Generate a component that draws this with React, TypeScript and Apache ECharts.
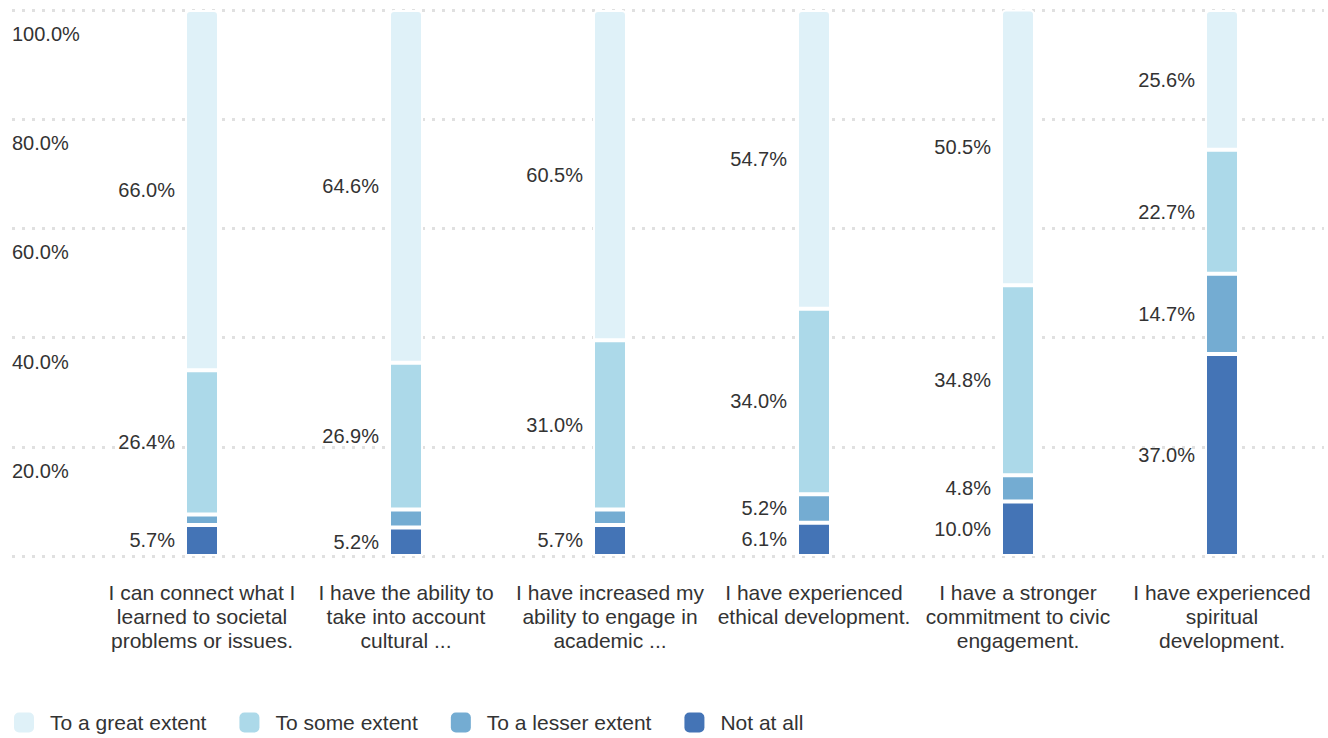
import React, { useEffect, useRef } from "react";
import * as echarts from "echarts";

const categories = [
  "I can connect what I\nlearned to societal\nproblems or issues.",
  "I have the ability to\ntake into account\ncultural ...",
  "I have increased my\nability to engage in\nacademic ...",
  "I have experienced\nethical development.",
  "I have a stronger\ncommitment to civic\nengagement.",
  "I have experienced\nspiritual\ndevelopment.",
];

const notAtAll = [5.7, 5.2, 5.7, 6.1, 10.0, 37.0];
const lesserExtent = [1.9, 3.3, 2.8, 5.2, 4.8, 14.7];
const someExtent = [26.4, 26.9, 31.0, 34.0, 34.8, 22.7];
const greatExtent = [66.0, 64.6, 60.5, 54.7, 50.5, 25.6];

const seriesNames = ["To a great extent", "To some extent", "To a lesser extent", "Not at all"];
const colors = {
  great: "#dff1f8",
  some: "#acd9e9",
  lesser: "#74acd2",
  not: "#4474b6",
};

const FONT = "'Liberation Sans', Arial, sans-serif";

export default function App() {
  const ref = useRef<HTMLDivElement>(null);
  useEffect(() => {
    if (!ref.current) return;
    const chart = echarts.init(ref.current, undefined, { renderer: "svg" });
    const labelCfg = {
      show: true,
      position: "left",
      distance: 10,
      fontSize: 20,
      fontFamily: FONT,
      color: "#333",
      formatter: (p: any) => (p.value >= 4 ? Number(p.value).toFixed(1) + "%" : ""),
    };
    const mk = (name: string, data: number[], color: string, top = false) => ({
      name,
      type: "bar",
      stack: "total",
      xAxisIndex: 0,
      yAxisIndex: 0,
      barWidth: 34,
      data,
      label: labelCfg,
      itemStyle: {
        color,
        borderColor: "#fff",
        borderWidth: 2,
        borderRadius: top ? [4, 4, 0, 0] : 0,
      },
      emphasis: { disabled: true },
    });
    chart.setOption({
      animation: false,
      textStyle: { fontFamily: FONT },
      grid: [
        { left: 100, right: 4, top: 10, bottom: 182 },
        { left: 12, right: 4, top: 10, bottom: 182 },
      ],
      xAxis: [
        {
          type: "category",
          gridIndex: 0,
          data: categories,
          axisLine: { show: false },
          axisTick: { show: false },
          axisLabel: {
            interval: 0,
            fontSize: 21,
            lineHeight: 24,
            color: "#333",
            fontFamily: FONT,
            margin: 24,
          },
          z: 3,
        },
        {
          type: "value",
          gridIndex: 1,
          show: false,
        },
      ],
      yAxis: [
        {
          type: "value",
          gridIndex: 0,
          min: 0,
          max: 100,
          interval: 20,
          show: false,
          splitLine: { show: false },
        },
        {
          type: "value",
          gridIndex: 1,
          min: 0,
          max: 100,
          interval: 20,
          axisLine: { show: false },
          axisTick: { show: false },
          axisLabel: {
            inside: true,
            margin: 0,
            align: "left",
            verticalAlign: "top",
            padding: [14, 0, 0, 0],
            fontSize: 20,
            color: "#333",
            fontFamily: FONT,
            formatter: (v: number) => (v === 0 ? "" : v.toFixed(1) + "%"),
          },
          splitLine: {
            show: true,
            lineStyle: { color: "#e0e0e0", width: 3, type: [3, 7] },
          },
          z: 0,
        },
      ],
      legend: {
        left: 14,
        top: 712,
        padding: 0,
        itemWidth: 20,
        itemHeight: 20,
        itemGap: 33,
        icon: "roundRect",
        data: seriesNames,
        itemStyle: { borderWidth: 0 },
        textStyle: { fontSize: 21, color: "#333", fontFamily: FONT, padding: [0, 0, 0, 11] },
        selectedMode: false,
      },
      series: [
        mk("Not at all", notAtAll, colors.not),
        mk("To a lesser extent", lesserExtent, colors.lesser),
        mk("To some extent", someExtent, colors.some),
        mk("To a great extent", greatExtent, colors.great, true),
      ],
    });
    return () => chart.dispose();
  }, []);
  return (
    <div
      ref={ref}
      style={{ position: "fixed", left: 0, top: 0, width: 1328, height: 738, background: "#fff" }}
    />
  );
}
